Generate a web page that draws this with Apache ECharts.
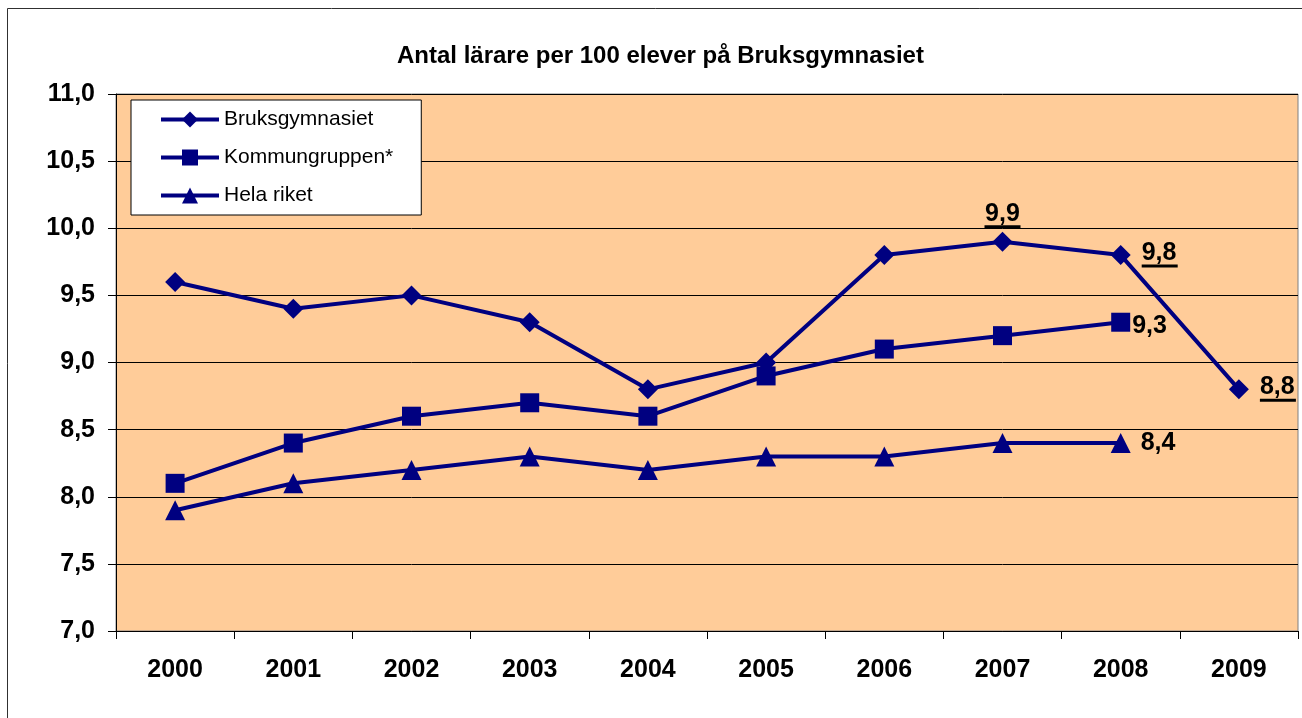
<!DOCTYPE html>
<html>
<head>
<meta charset="utf-8">
<script src="https://cdn.jsdelivr.net/npm/echarts@6/dist/echarts.min.js"></script>
<style>
html,body{margin:0;padding:0;background:#fff;}
#chart{width:1302px;height:718px;}
</style>
</head>
<body>
<div id="chart"></div>
<script>
// ---- data ----
var titleText = 'Antal lärare per 100 elever på Bruksgymnasiet';
var years = ['2000','2001','2002','2003','2004','2005','2006','2007','2008','2009'];
var seriesNames = ['Bruksgymnasiet', 'Kommungruppen*', 'Hela riket'];
var bruksgymnasiet = [9.6, 9.4, 9.5, 9.3, 8.8, 9.0, 9.8, 9.9, 9.8, 8.8];
var kommungruppen = [8.1, 8.4, 8.6, 8.7, 8.6, 8.9, 9.1, 9.2, 9.3, null];
var helaRiket = [7.9, 8.1, 8.2, 8.3, 8.2, 8.3, 8.3, 8.4, 8.4, null];
var yMin = 7.0, yMax = 11.0, yStep = 0.5;

// ---- styling helpers ----
var NAVY = '#000080';
var FONT = 'Liberation Sans, Arial, sans-serif';
function fmt(v){ return v.toFixed(1).replace('.', ','); }
var richUnder = {
  t: {fontFamily:FONT, fontSize:25, fontWeight:'bold', color:'#000', lineHeight:22},
  u: {backgroundColor:'#000', width:36, height:3, lineHeight:4}
};
function underlinedLabel(position, distance){
  return {show:true, position:position, distance:distance,
    formatter:function(p){ return '{t|' + fmt(p.value) + '}\n{u|}'; },
    rich: richUnder};
}
function plainLabel(position, distance, offset){
  return {show:true, position:position, distance:distance, offset:offset||[0,0],
    fontFamily:FONT, fontSize:25, fontWeight:'bold', color:'#000',
    formatter:function(p){ return fmt(p.value); }};
}
function build(values, labels){
  return values.map(function(v, i){
    var item = {value: v};
    if (labels[i]) item.label = labels[i];
    return item;
  });
}

var bruksLabels = {7: underlinedLabel('top', 3), 8: underlinedLabel('right', 11), 9: underlinedLabel('right', 11)};
var kommunLabels = {8: plainLabel('right', 2, [0,4])};
var helaLabels = {8: plainLabel('right', 10)};

var chart = echarts.init(document.getElementById('chart'), null, {renderer:'canvas'});
chart.setOption({
  animation:false,
  backgroundColor:'#fff',
  graphic:[{type:'rect', shape:{x:7.5, y:8.5, width:1400, height:800}, style:{fill:null, stroke:'#303030', lineWidth:1}, z:-10}],
  title:{text:titleText, left:392, top:39,
    textStyle:{fontFamily:FONT, fontSize:24, fontWeight:'bold', color:'#000'}},
  legend:{
    orient:'vertical', left:131, top:100,
    backgroundColor:'#fff', borderColor:'#000', borderWidth:1,
    padding:[9, 28, 9, 28],
    itemWidth:58, itemHeight:20, itemGap:17,
    lineStyle:{width:4},
    textStyle:{fontFamily:FONT, fontSize:21, color:'#000'},
    data: seriesNames
  },
  grid:{left:116, right:4, top:94, bottom:87, show:true, backgroundColor:'#FFCC99', borderColor:'#808080', borderWidth:1},
  xAxis:{type:'category', data:years, boundaryGap:true,
    axisLine:{show:true, lineStyle:{color:'#000', width:1}},
    axisTick:{show:true, length:8, lineStyle:{color:'#000'}},
    axisLabel:{margin:27, fontFamily:FONT, fontSize:25, fontWeight:'bold', color:'#000'},
    splitLine:{show:false}},
  yAxis:{type:'value', min:yMin, max:yMax, interval:yStep,
    axisLine:{show:true, lineStyle:{color:'#000', width:1}},
    axisTick:{show:true, length:8, lineStyle:{color:'#000'}},
    axisLabel:{margin:21, formatter:fmt, fontFamily:FONT, fontSize:25, fontWeight:'bold', color:'#000'},
    splitLine:{show:true, lineStyle:{color:'#000', width:1}}},
  series:[
    {name:seriesNames[0], type:'line', data:build(bruksgymnasiet, bruksLabels), symbol:'diamond', symbolSize:20,
      lineStyle:{color:NAVY, width:4}, itemStyle:{color:NAVY}, label:{show:false}},
    {name:seriesNames[1], type:'line', data:build(kommungruppen, kommunLabels), symbol:'rect', symbolSize:19,
      lineStyle:{color:NAVY, width:4}, itemStyle:{color:NAVY}, label:{show:false}},
    {name:seriesNames[2], type:'line', data:build(helaRiket, helaLabels), symbol:'triangle', symbolSize:20,
      lineStyle:{color:NAVY, width:4}, itemStyle:{color:NAVY}, label:{show:false}}
  ]
});
</script>
</body>
</html>
